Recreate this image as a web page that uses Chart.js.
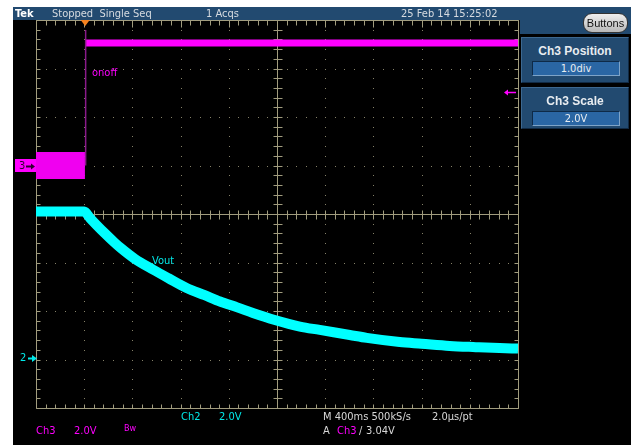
<!DOCTYPE html>
<html>
<head>
  <title>Tek scope capture</title>
  <script src="https://cdn.jsdelivr.net/npm/chart.js"></script>
  <style>
    body { margin: 0; background: #fff; width: 639px; height: 445px; overflow: hidden; }
    .abs { position: absolute; white-space: nowrap; }
    #screen { left: 13px; top: 7px; width: 618px; height: 438px; background: #000; }
    #topbar { left: 13px; top: 7px; width: 618px; height: 13px; background: #224a70; }
    #topright { left: 520px; top: 7px; width: 111px; height: 27px; background: #224a70; }
    .txt { font-family: "Liberation Sans Narrow", "DejaVu Sans Condensed", sans-serif; font-size: 11px; line-height: 13px; }
    .bar { color: #d6dbe0; top: 7px; }
    .panel { left: 521px; width: 106px; background: #224a70; border: 1px solid #3d6890; border-right-color: #112a44; border-bottom-color: #112a44; }
    .ptitle { width: 106px; text-align: center; font-family: "Liberation Sans", Arial, sans-serif; font-weight: bold; font-size: 12px; color: #e8ecf0; }
    .pval { left: 10px; width: 86px; height: 13px; background: #2a66a4; border: 1px solid #0e2a48; border-bottom-color: #7da3c8; border-right-color: #7da3c8;
            text-align: center; font-family: "Liberation Sans Narrow", "DejaVu Sans Condensed", sans-serif; font-size: 11px; line-height: 13px; color: #e8ecf0; }
    #buttons { left: 583px; top: 13px; width: 43px; height: 18px; border-radius: 9px; border: 1px solid #333;
               background: linear-gradient(#eeeeee, #b8b8b8); font-family: "Liberation Sans Narrow", sans-serif; font-size: 11px;
               line-height: 18px; text-align: center; color: #111; }
    .mag { color: #ff00ff; }
    .cy { color: #00e8e8; }
    .wh { color: #d8d8d8; }
    canvas { position: absolute; left: 0; top: 0; }
  </style>
</head>
<body>
  <div class="abs" id="screen"></div>
  <div class="abs" id="topbar"></div>
  <div class="abs" id="topright"></div>
  <div class="abs" style="left:15px;top:159px;width:21px;height:13px;background:#ff00ff;"></div>

  <canvas id="scope" width="639" height="445"></canvas>

  <!-- status line -->
  <div class="abs txt bar" style="left:15px;color:#fff;font-weight:bold;">Tek</div>
  <div class="abs txt bar" style="left:52px;">Stopped&nbsp; Single Seq</div>
  <div class="abs txt bar" style="left:206px;">1 Acqs</div>
  <div class="abs txt bar" style="left:401px;">25 Feb 14 15:25:02</div>
  <div class="abs" id="buttons">Buttons</div>

  <!-- side menu -->
  <div class="abs panel" style="top:37px;height:44px;">
    <div class="abs ptitle" style="top:6px;">Ch3 Position</div>
    <div class="abs pval" style="top:23px;">1.0div</div>
  </div>
  <div class="abs panel" style="top:87px;height:40px;">
    <div class="abs ptitle" style="top:6px;">Ch3 Scale</div>
    <div class="abs pval" style="top:23px;">2.0V</div>
  </div>

  <!-- trace labels and ground markers -->
  <div class="abs txt mag" style="left:92px;top:66px;">onoff</div>
  <div class="abs txt cy" style="left:152px;top:254px;">Vout</div>
  <div class="abs txt" style="left:19px;top:159px;color:#300030;">3</div>
  <div class="abs txt cy" style="left:20px;top:351px;">2</div>

  <!-- readouts -->
  <div class="abs txt cy" style="left:181px;top:410px;">Ch2</div>
  <div class="abs txt cy" style="left:219px;top:410px;">2.0V</div>
  <div class="abs txt wh" style="left:323px;top:410px;">M 400ms 500kS/s</div>
  <div class="abs txt wh" style="left:432px;top:410px;">2.0µs/pt</div>
  <div class="abs txt mag" style="left:36px;top:424px;">Ch3</div>
  <div class="abs txt mag" style="left:74px;top:424px;">2.0V</div>
  <div class="abs txt mag" style="left:124px;top:422px;font-size:9px;">Bw</div>
  <div class="abs txt wh" style="left:323px;top:424px;">A</div>
  <div class="abs txt mag" style="left:337px;top:424px;">Ch3</div>
  <div class="abs txt wh" style="left:359px;top:424px;">/</div>
  <div class="abs txt wh" style="left:366px;top:424px;">3.04V</div>

<script>
  // time base: 400 ms/div, trigger 1 div from the left edge
  const timeTicks = [-400, 0, 400, 800, 1200, 1600, 2000, 2400, 2800, 3200, 3600];
  const divTicks = [-4, -3, -2, -1, 0, 1, 2, 3, 4];

  // channel settings (V/div and position in div)
  const ch2Scale = 2.0, ch2Pos = -3;
  const ch3Scale = 2.0, ch3Pos = 1;
  const trigLevel = 3.04;

  // Ch2 "Vout" (volts)
  const voutTime = [-400, 0, 50, 100, 170, 250, 300, 420, 573, 700, 850, 1000, 1127, 1270, 1400,
                    1582, 1790, 1955, 2204, 2345, 2618, 2800, 3033, 3250, 3447, 3600];
  const voutVolts = [6.10, 6.10, 5.82, 5.56, 5.21, 4.83, 4.61, 4.15, 3.70, 3.35, 2.95, 2.65, 2.39, 2.15, 1.92,
                     1.63, 1.36, 1.22, 1.01, 0.89, 0.72, 0.65, 0.56, 0.51, 0.47, 0.45];

  // Ch3 "onoff" (volts): low before the edge, high after
  const onoffLowTime = [-400, 6];
  const onoffLowVolts = [0, 0];
  const onoffEdgeTime = [12, 12];
  const onoffEdgeVolts = [0, 5.59];
  const onoffHighTime = [15, 3600];
  const onoffHighVolts = [5.05, 5.05];

  function toDiv(times, volts, scale, pos) {
    return times.map((t, i) => ({ x: t, y: volts[i] / scale + pos }));
  }

  const GRAT = '#a19c7e';
  const DOTS = '#858168';

  // Tek style graticule, ground markers, trigger markers
  const graticule = {
    id: 'graticule',
    beforeDatasetsDraw(chart) {
      const { ctx, chartArea: a, scales: { x, y } } = chart;
      const xs = timeTicks.map(v => x.getPixelForValue(v));
      const ys = divTicks.map(v => y.getPixelForValue(v));
      const xm = [], ym = [];
      for (let i = 0; i <= 50; i++) xm.push(x.getPixelForValue(-400 + i * 80));
      for (let i = 0; i <= 40; i++) ym.push(y.getPixelForValue(-4 + i * 0.2));
      ctx.save();
      // dotted division lines
      ctx.fillStyle = DOTS;
      xs.slice(1, -1).forEach((px, i) => {
        if (i === 4) return;
        ym.slice(1, -1).forEach(py => ctx.fillRect(Math.round(px), Math.round(py), 1, 1));
      });
      ys.slice(1, -1).forEach((py, i) => {
        if (i === 3) return;
        xm.slice(1, -1).forEach(px => ctx.fillRect(Math.round(px), Math.round(py), 1, 1));
      });
      // centre axes with minor ticks
      ctx.strokeStyle = GRAT;
      ctx.lineWidth = 1;
      const cx = Math.round(x.getPixelForValue(1600)) + 0.5;
      const cy = Math.round(y.getPixelForValue(0)) + 0.5;
      ctx.beginPath();
      ctx.moveTo(cx, a.top); ctx.lineTo(cx, a.bottom);
      ctx.moveTo(a.left, cy); ctx.lineTo(a.right, cy);
      ym.forEach(py => { const p = Math.round(py) + 0.5; ctx.moveTo(cx - 4, p); ctx.lineTo(cx + 5, p); });
      xm.forEach(px => { const p = Math.round(px) + 0.5; ctx.moveTo(p, cy - 4); ctx.lineTo(p, cy + 5); });
      // frame with inward ticks
      const L = Math.round(a.left) + 0.5, R = Math.round(a.right) + 0.5;
      const T = Math.round(a.top) + 0.5, B = Math.round(a.bottom) + 0.5;
      ctx.rect(L, T, R - L, B - T);
      ym.forEach(py => { const p = Math.round(py) + 0.5; ctx.moveTo(L, p); ctx.lineTo(L + 4, p); ctx.moveTo(R, p); ctx.lineTo(R - 4, p); });
      xm.forEach(px => { const p = Math.round(px) + 0.5; ctx.moveTo(p, B); ctx.lineTo(p, B - 4); ctx.moveTo(p, T); ctx.lineTo(p, T + 5); });
      xs.forEach(px => { const p = Math.round(px) + 0.5; ctx.moveTo(p, T); ctx.lineTo(p, T + 7); });
      ctx.stroke();
      ctx.restore();
    },
    afterDraw(chart) {
      const { ctx, chartArea: a, scales: { x, y } } = chart;
      ctx.save();
      // trigger position
      const tx = x.getPixelForValue(0) + 1;
      ctx.fillStyle = '#f5821f';
      ctx.beginPath();
      ctx.moveTo(tx - 4.5, a.top); ctx.lineTo(tx + 4.5, a.top); ctx.lineTo(tx, a.top + 6); ctx.closePath();
      ctx.fill();
      // ground arrows
      const g3 = Math.round(y.getPixelForValue(ch3Pos)) + 0.5;
      ctx.strokeStyle = '#300030'; ctx.fillStyle = '#300030'; ctx.lineWidth = 2;
      ctx.beginPath(); ctx.moveTo(26, g3); ctx.lineTo(32, g3); ctx.stroke();
      ctx.beginPath(); ctx.moveTo(35, g3); ctx.lineTo(31, g3 - 3); ctx.lineTo(31, g3 + 3); ctx.closePath(); ctx.fill();
      const g2 = Math.round(y.getPixelForValue(ch2Pos)) - 1.5;
      ctx.strokeStyle = '#00e8e8'; ctx.fillStyle = '#00e8e8';
      ctx.beginPath(); ctx.moveTo(28, g2); ctx.lineTo(33, g2); ctx.stroke();
      ctx.beginPath(); ctx.moveTo(37, g2); ctx.lineTo(32, g2 - 3.5); ctx.lineTo(32, g2 + 3.5); ctx.closePath(); ctx.fill();
      // trigger level arrow (right side)
      const tl = Math.round(y.getPixelForValue(trigLevel / ch3Scale + ch3Pos)) + 0.5;
      ctx.strokeStyle = '#ff00ff'; ctx.fillStyle = '#ff00ff'; ctx.lineWidth = 1.5;
      ctx.beginPath(); ctx.moveTo(a.right - 11, tl); ctx.lineTo(a.right - 2, tl); ctx.stroke();
      ctx.beginPath(); ctx.moveTo(a.right - 14, tl); ctx.lineTo(a.right - 10, tl - 3); ctx.lineTo(a.right - 10, tl + 3); ctx.closePath(); ctx.fill();
      ctx.restore();
    }
  };

  const line = (data, color, width) => ({
    data: data, borderColor: color, borderWidth: width, pointRadius: 0,
    fill: false, tension: 0, borderJoinStyle: 'round'
  });

  const vout = line(toDiv(voutTime, voutVolts, ch2Scale, ch2Pos), '#00ffff', 10);
  vout.cubicInterpolationMode = 'monotone';

  new Chart(document.getElementById('scope'), {
    type: 'line',
    data: {
      datasets: [
        vout,
        line(toDiv(onoffLowTime, onoffLowVolts, ch3Scale, ch3Pos), '#f000f0', 27),
        line(toDiv(onoffEdgeTime, onoffEdgeVolts, ch3Scale, ch3Pos), '#8a1a8a', 1.5),
        line(toDiv(onoffHighTime, onoffHighVolts, ch3Scale, ch3Pos), '#ff00ff', 7)
      ]
    },
    options: {
      responsive: false,
      animation: false,
      devicePixelRatio: 1,
      layout: { padding: { left: 36, right: 121, top: 20, bottom: 37 } },
      plugins: { legend: { display: false }, tooltip: { enabled: false } },
      scales: {
        x: { type: 'linear', min: -400, max: 3600, display: false },
        y: { type: 'linear', min: -4, max: 4, display: false }
      }
    },
    plugins: [graticule]
  });
</script>
</body>
</html>
